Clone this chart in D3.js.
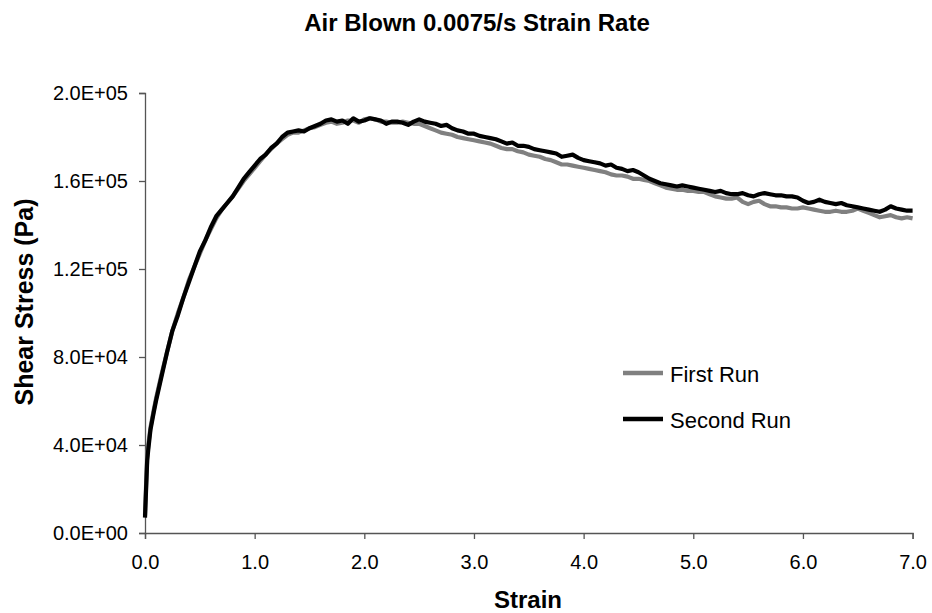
<!DOCTYPE html>
<html>
<head>
<meta charset="utf-8">
<script src="https://cdn.jsdelivr.net/npm/d3@7"></script>
<style>
  body { margin: 0; background: #fff; }
  text { font-family: Arial, "Liberation Sans", sans-serif; }
</style>
</head>
<body>
<div id="chart"></div>
<script>
// strain values (shared x for both runs)
var strain = [0, 0.01, 0.02, 0.03, 0.05, 0.08, 0.1, 0.15, 0.2, 0.25, 0.3, 0.35, 0.4, 0.45, 0.5,
  0.55, 0.6, 0.65, 0.7, 0.75, 0.8, 0.85, 0.9, 0.95,
  1.0, 1.05, 1.1, 1.15, 1.2, 1.25, 1.3, 1.35, 1.4, 1.45, 1.5, 1.55, 1.6, 1.65, 1.7, 1.75, 1.8, 1.85, 1.9, 1.95,
  2.0, 2.05, 2.1, 2.15, 2.2, 2.25, 2.3, 2.35, 2.4, 2.45, 2.5, 2.55, 2.6, 2.65, 2.7, 2.75, 2.8, 2.85, 2.9, 2.95,
  3.0, 3.05, 3.1, 3.15, 3.2, 3.25, 3.3, 3.35, 3.4, 3.45, 3.5, 3.55, 3.6, 3.65, 3.7, 3.75, 3.8, 3.85, 3.9, 3.95,
  4.0, 4.05, 4.1, 4.15, 4.2, 4.25, 4.3, 4.35, 4.4, 4.45, 4.5, 4.55, 4.6, 4.65, 4.7, 4.75, 4.8, 4.85, 4.9, 4.95,
  5.0, 5.05, 5.1, 5.15, 5.2, 5.25, 5.3, 5.35, 5.4, 5.45, 5.5, 5.55, 5.6, 5.65, 5.7, 5.75, 5.8, 5.85, 5.9, 5.95,
  6.0, 6.05, 6.1, 6.15, 6.2, 6.25, 6.3, 6.35, 6.4, 6.45, 6.5, 6.55, 6.6, 6.65, 6.7, 6.75, 6.8, 6.85, 6.9, 6.95,
  7.0];

// shear stress in kPa
var firstRun = [8, 22, 34, 40, 48, 56, 61, 72, 82, 92, 100, 107, 115, 121, 127,
  133, 138, 143, 147, 150, 153, 156.5, 160, 163,
  166, 169, 172, 174.5, 177, 179, 181, 182, 182, 183, 184, 184.5, 185.5, 186.5, 187, 186, 186.5, 187.5, 187.5, 186.5,
  188, 188.5, 188, 187, 187, 186.5, 186.5, 187, 186.5, 186, 186, 185, 184, 183, 182, 181.5, 181, 180, 179.5, 179,
  178.5, 178, 177.5, 177, 176, 175, 174.5, 174.5, 173.5, 173, 172, 171.5, 171, 170, 169.5, 168.5, 167.5, 167.5, 167, 166.5,
  166, 165.5, 165, 164.5, 164, 163, 162.5, 162.5, 162, 161, 161, 160.5, 160, 159, 158, 157, 156.5, 156, 156, 155.5,
  155.5, 155, 155, 154, 153, 152.5, 152, 152, 152.5, 150.5, 149.5, 150.5, 151, 149.5, 148.5, 148.5, 148, 148, 147.5, 147.5,
  148, 147.5, 147, 146.5, 146, 146, 146.5, 146, 146, 146.5, 147.5, 146.5, 145.5, 144.5, 143.5, 144, 144.5, 143.5, 143, 143.5,
  143];

var secondRun = [7, 20, 33, 38, 47, 55, 60, 71, 82, 92, 99, 107, 114, 121, 128,
  133, 139, 144, 147, 150, 153, 157, 161, 164,
  167, 170, 172, 175, 177, 180, 182, 182.5, 183, 182.5, 184, 185, 186, 187.5, 188, 187, 187.5, 186, 188.5, 187,
  187.5, 188.5, 188, 187.5, 186, 187, 187, 186.5, 185.5, 187, 188, 187, 186.5, 186, 185, 185.5, 184, 183, 182.5, 181.5,
  181.5, 180.5, 180, 179.5, 179, 178, 177, 177.5, 176, 176, 175.5, 174.5, 174, 173.5, 173, 172.5, 171, 171.5, 172, 170.5,
  169.5, 169, 168.5, 168, 167, 167.5, 166, 165.5, 164.5, 165, 164, 162.5, 161, 160, 159, 158.5, 158, 157.5, 158, 157.5,
  157, 156.5, 156, 155.5, 155, 155.5, 154.5, 154, 154, 154.5, 153.5, 153, 154, 154.5, 154, 153.5, 153.5, 153, 153, 152.5,
  151, 150, 150.5, 151.5, 150.5, 150, 149.5, 150, 149, 148.5, 148, 147.5, 147, 146.5, 146, 147, 148.5, 147.5, 147, 146.5,
  146.5];

var seriesNames = ["First Run", "Second Run"];
var seriesColors = ["#808080", "#000000"];
var yTicks = [0, 40000, 80000, 120000, 160000, 200000];
var xTicks = [0, 1, 2, 3, 4, 5, 6, 7];

var svgWidth = 932;
var svgHeight = 613;
var margin = { top: 93, right: 20, bottom: 80, left: 145 };
var width = 912.6 - margin.left;
var height = 533 - margin.top;

var svg = d3.select("#chart")
  .append("svg")
  .attr("width", svgWidth)
  .attr("height", svgHeight);

var chartGroup = svg.append("g")
  .attr("transform", `translate(${margin.left}, ${margin.top})`);

var xScale = d3.scaleLinear().domain([0, 7]).range([0, width]);
var yScale = d3.scaleLinear().domain([0, 200000]).range([height, 0]);

// Excel style 2.0E+05 labels
var yFormat = function(d) {
  var e = d === 0 ? 0 : Math.floor(Math.log10(d));
  var m = d / Math.pow(10, e);
  return m.toFixed(1) + "E+" + (e < 10 ? "0" + e : e);
};

var bottomAxis = d3.axisBottom(xScale).tickValues(xTicks).tickSize(6).tickPadding(16)
  .tickFormat(d3.format(".1f"));
var leftAxis = d3.axisLeft(yScale).tickValues(yTicks).tickSize(6).tickPadding(11)
  .tickFormat(yFormat);

var xAxisG = chartGroup.append("g")
  .attr("transform", `translate(0, ${height})`)
  .call(bottomAxis);
var yAxisG = chartGroup.append("g")
  .call(leftAxis);

[xAxisG, yAxisG].forEach(function(g) {
  g.selectAll("path, line").attr("stroke", "#555").attr("stroke-width", 1.3);
  g.selectAll("text").attr("font-size", "20px").attr("fill", "#000")
    .style("font-family", "Arial, 'Liberation Sans', sans-serif");
});

// lines
var runs = [firstRun, secondRun];
var line = d3.line()
  .x(function(d, i) { return xScale(strain[i]); })
  .y(function(d) { return yScale(d * 1000); });

runs.forEach(function(run, k) {
  chartGroup.append("path")
    .datum(run)
    .attr("fill", "none")
    .attr("stroke", seriesColors[k])
    .attr("stroke-width", 4.2)
    .attr("stroke-linejoin", "round")
    .attr("d", line);
});

// legend
var legend = svg.append("g");
seriesNames.forEach(function(name, k) {
  var ly = 373 + k * 46;
  legend.append("line")
    .attr("x1", 623).attr("x2", 663)
    .attr("y1", ly).attr("y2", ly)
    .attr("stroke", seriesColors[k])
    .attr("stroke-width", 4.5);
  legend.append("text")
    .attr("x", 670).attr("y", ly + 9)
    .attr("font-size", "22px")
    .text(name);
});

// titles
svg.append("text")
  .attr("x", 477).attr("y", 31)
  .attr("text-anchor", "middle")
  .attr("font-size", "24px")
  .attr("font-weight", "bold")
  .text("Air Blown 0.0075/s Strain Rate");

svg.append("text")
  .attr("transform", "translate(33, 302) rotate(-90)")
  .attr("text-anchor", "middle")
  .attr("font-size", "25px")
  .attr("font-weight", "bold")
  .text("Shear Stress (Pa)");

svg.append("text")
  .attr("x", 528).attr("y", 608)
  .attr("text-anchor", "middle")
  .attr("font-size", "24px")
  .attr("font-weight", "bold")
  .text("Strain");
</script>
</body>
</html>
